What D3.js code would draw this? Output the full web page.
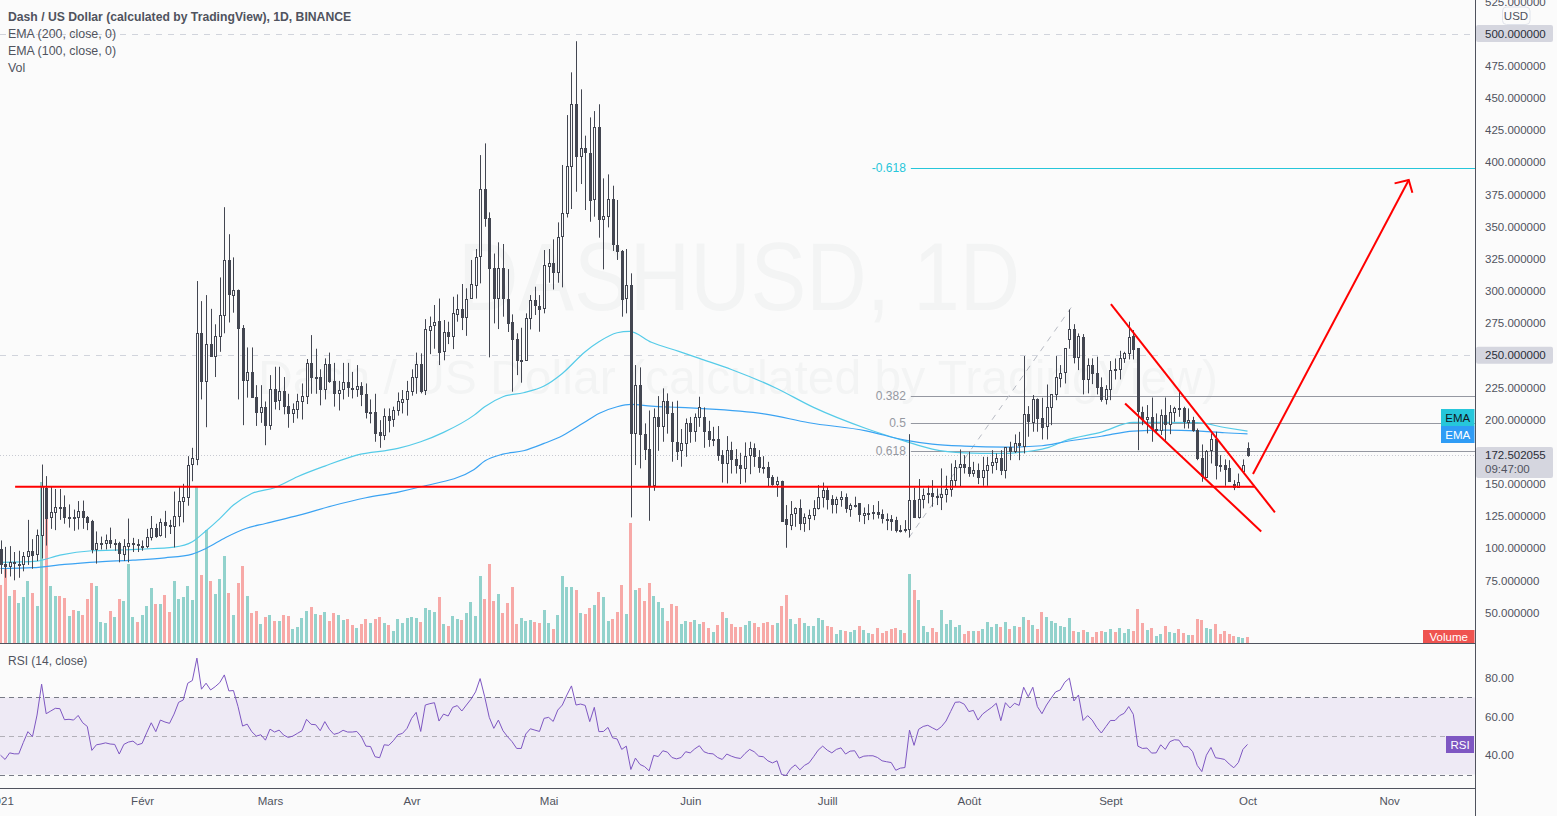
<!DOCTYPE html>
<html><head><meta charset="utf-8">
<style>html,body{margin:0;padding:0;background:#fbfbfb;overflow:hidden}svg{display:block}text{font-family:"Liberation Sans",Arial,sans-serif}</style>
<script src="https://cdnjs.cloudflare.com/ajax/libs/d3/7.8.5/d3.min.js"></script>
</head><body><svg id="c" width="1557" height="816"></svg>
<script>
const opens=[99,87.5,86,89,88,88,94,98,95,110,
147,124,128,132,132,124,124,124,129,124,
121,99,104,104,106,104,104,96,102,104,
103,102,102,109,116,110,120,118,117,125,
137,140,165,170,267.6,230,259,249.5,265,281,
323.6,297,301,271.5,231,237,217.6,206,210,196,
224,215,222,210.6,205,208,214,218,243.6,233,
233,223.6,243,230,220.7,223,228.8,224.6,224,226,
219.7,206,206,190,188,203,200,207,214,216,
222,233,243,222.3,270,273,276.5,252.7,267.7,264.3,
282.4,286,280,294,305,326.5,378.8,356.3,317.4,294,
317.4,294,275.5,262.3,246.5,246,278.6,292.6,288.4,286.4,
320,322,314.9,342,360.2,397,445,404.2,410.7,407.4,
371,427,355.5,358,371,336,331.2,294.1,304.5,189.2,
226.7,188.4,177,149,201.6,194.4,214,204.7,182.7,175.7,
181.4,197,190.5,201.6,202,191,184.5,184.5,172.3,165.8,
176.2,169,165,162.5,171.8,177.5,171,163,163,155,
149.8,152.5,122.6,118.7,126.9,130.9,119.2,123.9,126,131.6,
139.9,145.1,137.9,134.2,137.9,139.4,130.9,133.7,134.8,126.2,
127.7,127.7,128,126.2,123,123,121.8,114,114,115,
137.3,124.4,138.6,141.7,142.5,139.9,140,142,146,153,
163.2,165.3,163.2,158.8,161,155.5,161,164.5,166.6,169.7,
160.7,178.3,175,181.4,179.5,204,198.2,215.8,201.3,194.3,
209.4,219.5,232.7,236.3,262,270,248.2,264,231.1,242.3,
235.8,225,215.8,223.4,238.4,239,247.5,251.3,265,255.2,
206,200.3,201.6,193,191.9,203.4,196.4,205.5,208.6,208.6,
198.2,199.4,191.8,169.7,155.5,175.7,184.5,164.5,165,162,
150,148,160,177.9];
const highs=[106,101,101.6,97,98,97,122,107,114.5,165,
156,148,146,146,141,134,130,136.6,137,125,
122,113,109,110.6,116,107,105,107,123,108,
107,106,115,125,119,123,129,122,144,148,
150,171.5,178,307.6,292,296.7,286,274,310.4,365,
344,326,301,273.4,256,256,226.7,226.7,214,234.5,
241,241,233,220,212.5,220,228,247,265.6,255,
239,247.5,252,244,230,244,244,237,242.3,229,
228,215.6,220,199.5,208.6,208.6,210,221,222.9,230,
239,252,251.4,278,280,289,294,277.3,276,295.4,
297.2,305.3,302,324,332.5,405.5,414.6,361,329,337.7,
336.4,316.9,281.7,267,271.3,282.5,296.7,303.2,296.7,331.7,
332.5,340,353.2,397.8,436.6,469.8,494,456.6,420.6,434.8,
439.7,445,387.4,390.5,381.7,370.6,331.7,332.5,313.6,242.3,
240.5,197,207,208.6,218.2,224.2,220.3,213.8,214.6,192.6,
200.8,202,204.7,217.7,209.4,199,194.3,194.9,176.2,187.1,
182.7,177,174.1,182.2,182.7,181.4,176.2,171.5,167.1,156.8,
155.5,152.5,133.5,136.6,131.7,137.9,127,130,137.3,149,
151,147.7,141.2,140,144.3,142.5,134.8,140,134.8,131.6,
134.2,133.5,136.6,130.1,127,125.7,124.4,117.9,121.8,188.6,
147,153.7,146.4,148.5,152.9,146.4,162,156.3,165.8,168.4,
176.7,172.3,175,167.1,165.8,171,171,176.2,173.6,176.2,
178.3,182.7,188.4,190.4,249.3,210.4,219,216.4,216.9,227.2,
219.5,249.3,242.3,255.2,285.5,274.1,266.9,266.4,247.5,247.5,
248.8,232.7,226.7,245.4,247.4,253.4,252.6,276,269.5,255.2,
210,211.2,217.1,204.7,207.8,217.1,211.2,209.9,222.8,209.9,
208.6,202.1,193,180.6,176.2,189.2,190.5,172.3,169,168.4,
152.9,158,169,182.2];
const lows=[80,77,78,75,77,82,87,84,90,92,
102,115,114,122,119,116,113.5,114.5,115,114,
96,88,99,99,100,98,89,90,89,97,
97,98,100,106,108,109,108,111,100.6,117,
120,133,152,164.5,215.6,194,250,233,252.6,267,
275.4,283,215.6,195.6,217,217.6,195,197.4,180,192,
207.8,207.3,204,193.6,197.4,200.8,200,212,220,220,
211,215.6,228.5,210,207,215.6,217.6,216.4,217.6,210.4,
200.8,197,182.7,178,184,190,194.3,203,204.7,203,
218.5,220,220.3,219,250.8,255,242.3,246,258.6,254.7,
276,269.5,265,294,294,305.8,349.8,248.3,274.7,270.3,
279.9,268,221.6,234.5,228.6,246.2,270,281.2,268.2,282.5,
306.3,301,306.3,302.7,357,363.6,377,383,362.8,353.7,
357.6,341.3,316.7,349.3,331,324,279.9,282.5,123.9,164.6,
162,168.5,121.3,144.6,175.7,182.7,189,167.2,168.5,163.3,
171,181.9,182.7,194.3,178,178.8,179.3,167.9,151,150.3,
158,158,149.8,151,157.5,163.2,158.6,158,148.2,148.5,
139.9,121.8,100.3,114,116.6,114,112.7,114,121.8,130,
131.6,130,127,127,132.2,127.5,124.4,131.6,120.5,118.7,
121.8,122.3,123,119.2,114,113.5,112.2,112.2,112.2,108.3,
123.4,123,130.9,134.8,132.2,133.5,129.6,135.5,140,147.7,
147.7,158,155.5,155.5,149.8,148.5,148.5,158,160.7,156.8,
154.2,168.4,174,168.4,173.6,186.6,190.5,190.5,184.5,184.5,
195.6,215,225,228,255,243.6,238.4,219.5,220.3,227.5,
219.5,213.8,211.7,215,231.1,231.1,244,246.7,246.7,176.2,
195.6,189.2,182.7,189.2,187.9,183.5,188.6,198.2,202.1,193,
193,190.5,168.4,151.6,155.5,165.8,153.4,159.4,148.5,151.6,
145.1,147.7,159.4,171];
const closes=[87,86,89,88,88,94,98,95,110,148,
124,128,132,132,124,124,124,129,124,120.5,
99,104,104,106,104,104,96,102,104,103,
102,102,109,116,110,120,118,117,125,137,
140,165,170,267.6,230,259,249.5,265,281,323.6,
297,301,271.5,231,237,217.6,206,210,196,224,
215,222,210.6,205,208,214,218,243.6,233,233,
223.6,243,230,220.7,223,228.8,224.6,224,226,219.7,
206,206,190,188,203,200,207,214,216,222,
232.7,243,222.3,270,273,275.5,252.7,267.7,264.3,282.4,
286,280,294,305,326.5,378.8,356.3,317.4,294,317.4,
294,275.5,262.3,246,245.7,278.6,292.6,288.4,286.4,320,
322,314.9,342,360.2,397,445.2,404.2,410.7,407.4,371,
427,355.5,358,371,336,331.2,294.1,304.5,189.2,226.7,
188.4,177,149,201.6,194.4,214,204.7,182.7,175.7,181.4,
197,190.5,201.6,209.4,191.2,184.5,184.5,172.3,165.8,176.2,
169,164.5,162.5,171.8,177.5,171,163,163,155,149.8,
152.5,121.8,118.7,126.9,130.9,119.2,123.9,126,131.6,139.9,
145.1,137.9,134.2,137.9,139.4,130.9,133.7,132.8,126.2,127.7,
127.7,128,126.2,123,123,121.8,114,113.5,115,137.3,
124.4,138.6,141.7,142.5,139.9,140.4,142,146,153,163.2,
165.3,163.2,158.8,161,155.5,161,164.5,166.6,169.7,160.7,
178.3,175,181.4,179.5,204,198.2,215.8,201.3,194.3,209.4,
219.5,232.7,236.3,255.2,270,248.2,264.8,231.1,242.3,235.8,
225,215.8,223.4,238.4,239,247.5,251.3,263.8,255.2,206,
200.3,201.6,193,191.9,203.4,196.4,205.5,208.6,208.6,198.2,
199.4,191.8,169.7,155.5,175.7,184.5,164.5,165,162,152.1,
147.6,151.6,165,172.5];
const volumes=[58,75,47,53,40,46,62,50,37,161,
147,57,47,47,45,27,33,32,28,44,
60,57,21,20,32,26,44,42,79,26,
21,28,37,55,39,39,48,31,62,44,
46,57,43,156,68,113,62,49,64,87,
50,28,60,77,47,30,32,19,26,28,
22,22,28,27,14,16,25,32,36,29,
28,31,22,30,28,23,24,18,15,19,
24,20,24,26,20,18,12,24,20,25,
26,25,21,35,33,31,46,19,17,27,
24,23,30,41,27,67,44,79,42,49,
30,40,56,19,25,22,23,21,20,33,
20,14,28,67,56,56,53,30,29,35,
38,51,46,22,24,31,58,29,120,53,
55,42,60,47,41,35,22,39,37,19,
22,21,23,19,21,15,11,18,31,25,
19,16,16,18,22,20,16,20,21,18,
20,37,48,24,19,25,20,17,17,25,
23,17,16,9,13,12,11,13,17,13,
10,9,15,10,12,14,15,13,10,69,
53,43,17,11,15,11,33,19,23,16,
18,9,12,12,12,14,21,16,19,16,
21,14,17,16,26,23,18,14,31,26,
22,20,17,16,25,12,11,13,11,6,
11,12,11,14,11,15,10,14,12,34,
20,13,15,7,9,17,11,10,14,10,
8,8,24,23,15,14,19,9,12,9,
7,6,5,6];
const volumeSides=[
"r","r","g","r","g","g","g","r","g","g",
"r","g","g","r","r","g","r","g","r","r",
"r","g","g","g","r","g","r","g","g","g",
"r","g","g","g","r","g","r","r","g","g",
"g","g","g","g","r","g","r","g","g","g",
"r","g","r","r","g","r","r","g","r","g",
"r","g","r","r","g","g","g","g","r","g",
"r","g","r","r","g","g","r","r","g","r",
"r","g","r","r","g","r","g","g","g","g",
"g","g","r","g","g","g","r","g","r","g",
"g","r","g","g","g","g","r","r","r","g",
"r","r","r","r","g","g","g","r","r","g",
"g","r","g","g","g","g","r","g","r","r",
"g","r","g","g","r","r","r","g","r","g",
"r","r","r","g","g","g","r","r","r","g",
"g","r","g","g","r","r","g","r","r","g",
"r","r","r","g","g","r","r","r","r","r",
"g","r","r","g","g","r","g","g","g","g",
"g","r","r","g","g","r","g","g","r","g",
"g","r","r","r","r","r","r","g","r","g",
"r","g","g","g","r","r","g","g","g","g",
"g","r","r","g","r","g","g","g","g","r",
"g","r","g","r","g","r","g","r","r","g",
"g","g","g","g","g","r","g","r","g","r",
"r","r","g","g","r","g","g","g","r","r",
"r","g","r","g","g","r","g","g","r","r",
"g","r","r","r","g","g","r","r","r","r",
"r","g","g","r"];
const rsiValues=[40,37.8,41.2,40.7,40.7,46.6,52.2,49.6,60.8,76.8,
61.5,62.9,64.3,64.1,58.4,58.6,58.2,60.6,56.8,54.9,
42.5,45.4,45.8,46.4,45.8,45.6,40.6,45.6,46.8,47.3,
45.4,46.1,51.6,56.8,52.2,58.2,57.2,56.5,61.3,67.4,
68.6,77.3,78.7,90.3,74.2,77.3,73.8,75.5,77.6,81.6,
73.3,73.5,65.2,55.1,56.1,52.2,49.9,50.6,47.8,53.5,
52,53,50.4,49.2,49.9,51.3,52.7,58.6,56,55.8,
52.7,57.4,53.4,50.8,51.5,52.9,52,52,52.3,49.6,
44.7,44.5,39.2,38.7,45.4,45.1,47.5,50.6,51.3,53.9,
59.1,62.2,52.3,66,66.7,67.2,57.7,61.3,60.3,64.8,
65.7,62.9,66,69,72.8,79.7,70.3,59.6,53.9,58.2,
52.7,49.6,47,43.5,43.5,51,53.7,53,52.3,59.1,
59.6,57.5,63.4,66,71.2,75.9,66,66.5,65.8,57.4,
64.8,52.2,52.3,54.4,49,48.4,43,44.7,32.6,38.5,
35.2,34.1,31.9,39.9,39.3,42.3,41.6,38.8,38.1,38.8,
41.8,41.2,43.3,44.9,41.8,40.9,40.7,38.8,37.8,40.6,
39.5,38.7,38.3,40.9,43,41.8,39.5,39.2,37.1,36,
37.1,30,29.5,33.1,35,32.4,34.7,36,39.2,42.6,
44.7,42.6,41.2,43,43.8,40.6,42.1,42.3,38.5,39.5,
39.7,39.7,38.8,37.1,36.6,36.2,32.2,33.3,33.6,53,
45.1,53.4,54.9,55.5,54.2,53,54.8,57.7,62.6,67.4,
67.6,66.4,62.6,63.2,58.2,61.3,63.1,64.8,66.9,57.9,
67.2,64.5,66.9,65.8,75.2,70.3,75.2,65.2,61.5,66,
69.5,72.8,73.8,77.8,79.9,68.1,71.2,58,60.5,58.2,
54.4,51.5,54.8,58,58,60.5,61.7,65.2,61.2,44.7,
43.5,43.7,41.1,41.2,45.4,43,47,48,47.8,44.4,
44.4,41.8,34.7,31.5,40,44,38.7,38.3,37.8,35.4,
33.5,36.2,43,45.6];
const ema100Days=[0,8,13,20,25,31,38,42,45,48,51,55,60,65,71,78,87,92,97,103.7,106,110,114.5,119,123,128,131,135,137.7,142.5,148.5,153,160,169.5,178,189.5,198,204,211,218.5,226,229.5,233,241,248,255,262,268,273];
const ema100Values=[89,90,94.6,98,98.5,99.3,100.8,105,113.5,123,133.5,142.5,147,155.5,163.8,172.3,177.5,182.7,190,203.4,209.9,217.7,220.8,226,235.8,252.7,260.4,267.4,268.5,260,253,247.5,238.9,224.9,209.4,193,183.2,177,174.1,173.6,175.7,178.3,183.5,190.2,197.7,197.7,197.5,193.8,191];
const ema200Days=[0,7,14,21.6,29,36,42,45,49.3,53.7,58,65.4,72.7,80,87.3,92,103.7,106,110,114.5,119,123,127.5,131,135,138,142.5,148.5,153,167.5,177,189.5,198,204,211,220,228,233,241,248,255,262,268,273];
const ema200Values=[84.2,84.8,87.4,89.4,90.7,92.5,95.4,99.8,108.3,115.3,119.2,125.7,133,139.2,143.8,147.7,161.2,167.7,173.1,175.7,181.4,187.4,197,204.7,209.9,211.7,210.4,209.4,208.6,204.2,197.5,191.2,184,180.9,179.3,178.5,179.6,182.7,187,191,191.8,191.2,189.7,188.9];
const monthDays=[0,31,59,90,120,151,181,212,243,273,304];
const monthLabels=["2021","Févr","Mars","Avr","Mai","Juin","Juill","Août","Sept","Oct","Nov"];
const priceTicks=d3.range(50,526,25);
const rsiTicks=[40,60,80];
const fibRatios=["0.382","0.5","0.618","-0.618"];
const fibPrices=[217.9,196.9,175.9,395.5];
const fibStartDay=199.3;
const fibDiagonal=[[198.9,108.3],[234.4,287]];
const redLines=[
 [[3.2,147.7],[274.6,147.7]],
 [[243.1,289.7],[279,127.8]],
 [[246.2,212.5],[276,113]],
 [[274.2,157.6],[308.3,386.1]],
 [[305.2,383.5],[308.3,386.1],[309.1,376.2]]
];
const priceTags=[500,250];
const lastPrice=172.502055;
const lastTime="09:47:00";

const W=1557,H=816,paneR=1475,priceBottom=643,rsiBottom=788;
const BG="#fbfbfb",INK="#50535e",CANDLE="#434651";
const svg=d3.select("#c");
svg.append("rect").attr("width",W).attr("height",H).attr("fill",BG);
const x=d3.scaleLinear().domain([0,273]).range([0.5,1247.5]);
const y=d3.scaleLinear().domain([50,500]).range([612.5,33.5]);
const rsiY=d3.scaleLinear().domain([30,70]).range([774.5,697.3]);
const volY=d3.scaleLinear().domain([0,100]).range([priceBottom,priceBottom-100]);
const days=d3.range(opens.length);

// watermark
const wm=svg.append("g").attr("fill","#50535e").attr("fill-opacity",0.045).attr("text-anchor","start");
wm.append("text").attr("x",458).attr("y",310).attr("font-size",96).attr("textLength",562).attr("lengthAdjust","spacingAndGlyphs").text("DASHUSD, 1D");
wm.append("text").attr("x",258).attr("y",394).attr("font-size",48).attr("textLength",960).attr("lengthAdjust","spacingAndGlyphs").text("Dash / US Dollar (calculated by TradingView)");

// horizontal price reference lines
svg.append("g").selectAll("line").data(priceTags).join("line")
 .attr("x1",0).attr("x2",paneR).attr("y1",d=>Math.round(y(d))+.5).attr("y2",d=>Math.round(y(d))+.5)
 .attr("stroke","#d1d4dc").attr("stroke-dasharray","6,6");
svg.append("line").attr("x1",0).attr("x2",paneR).attr("y1",Math.round(y(lastPrice))+.5).attr("y2",Math.round(y(lastPrice))+.5)
 .attr("stroke","#c8cad2").attr("stroke-dasharray","1,2");

// volume
svg.append("g").selectAll("rect").data(volumes).join("rect")
 .attr("x",(d,i)=>Math.round(x(i)-1.5)).attr("width",3)
 .attr("y",d=>volY(d)).attr("height",d=>volY(0)-volY(d))
 .attr("fill",(d,i)=>volumeSides[i]==="g"?"#92d2cc":"#f7a9a7");

// fib
const fib=svg.append("g");
fib.selectAll("line").data(fibPrices).join("line")
 .attr("x1",x(fibStartDay)).attr("x2",paneR).attr("y1",d=>Math.round(y(d))+.5).attr("y2",d=>Math.round(y(d))+.5)
 .attr("stroke",(d,i)=>i===3?"#26c6da":"#9598a1");
fib.selectAll("text").data(fibRatios).join("text")
 .attr("x",x(fibStartDay)-5).attr("y",(d,i)=>y(fibPrices[i])+4).attr("text-anchor","end").attr("font-size",12)
 .attr("fill",(d,i)=>i===3?"#26c6da":"#9598a1").text(d=>d);
const ln=d3.line().x(d=>x(d[0])).y(d=>y(d[1]));
svg.append("path").attr("d",ln(fibDiagonal)).attr("fill","none").attr("stroke","#b8bbc4").attr("stroke-dasharray","6,6");

// EMA
const curve=d3.line().x(d=>x(d[0])).y(d=>y(d[1])).curve(d3.curveMonotoneX);
svg.append("path").attr("d",curve(ema100Days.map((d,i)=>[d,ema100Values[i]]))).attr("fill","none").attr("stroke","#55cbe8").attr("stroke-width",1.2);
svg.append("path").attr("d",curve(ema200Days.map((d,i)=>[d,ema200Values[i]]))).attr("fill","none").attr("stroke","#3ba3f2").attr("stroke-width",1.2);

// candles
const cg=svg.append("g").selectAll("g").data(days).join("g");
cg.append("line").attr("x1",i=>Math.round(x(i))+.5).attr("x2",i=>Math.round(x(i))+.5)
 .attr("y1",i=>y(highs[i])).attr("y2",i=>y(lows[i])).attr("stroke",CANDLE);
cg.append("rect")
 .attr("x",i=>Math.round(x(i))-.5).attr("width",2)
 .attr("y",i=>Math.round(y(Math.max(opens[i],closes[i])))+.5)
 .attr("height",i=>Math.max(1,Math.round(Math.abs(y(opens[i])-y(closes[i])))))
 .attr("fill",i=>closes[i]>=opens[i]?BG:CANDLE).attr("stroke",CANDLE);

// drawn red lines
svg.append("g").selectAll("path").data(redLines).join("path")
 .attr("d",ln).attr("fill","none").attr("stroke","#ff0000").attr("stroke-width",2);

// RSI pane
svg.append("rect").attr("x",0).attr("width",paneR).attr("y",rsiY(70)).attr("height",rsiY(30)-rsiY(70)).attr("fill","#7e57c2").attr("fill-opacity",.1);
svg.append("g").selectAll("line").data([70,50,30]).join("line")
 .attr("x1",0).attr("x2",paneR).attr("y1",d=>Math.round(rsiY(d))+.5).attr("y2",d=>Math.round(rsiY(d))+.5)
 .attr("stroke",d=>d===50?"#b2b0b8":"#787b86").attr("stroke-dasharray","5,4");
svg.append("path").attr("d",d3.line().x((d,i)=>x(i)).y(d=>rsiY(d))(rsiValues)).attr("fill","none").attr("stroke","#7e57c2").attr("stroke-width",1);

// pane frame
const frame=svg.append("g").attr("stroke",INK);
frame.append("line").attr("x1",0).attr("x2",paneR).attr("y1",priceBottom+.5).attr("y2",priceBottom+.5);
frame.append("line").attr("x1",0).attr("x2",paneR).attr("y1",rsiBottom+.5).attr("y2",rsiBottom+.5);
frame.append("line").attr("x1",paneR+.5).attr("x2",paneR+.5).attr("y1",0).attr("y2",H);

// axes
const fmt=d3.format(".6f");
const pa=svg.append("g").attr("transform",`translate(${paneR},0)`)
 .call(d3.axisRight(y).tickValues(priceTicks).tickSize(0).tickPadding(10).tickFormat(fmt));
const ra=svg.append("g").attr("transform",`translate(${paneR},0)`)
 .call(d3.axisRight(rsiY).tickValues(rsiTicks).tickSize(0).tickPadding(10).tickFormat(d3.format(".2f")));
const ta=svg.append("g").attr("transform",`translate(0,${rsiBottom})`)
 .call(d3.axisBottom(x).tickValues(monthDays).tickSize(0).tickPadding(9).tickFormat((d,i)=>monthLabels[i]));
[pa,ra,ta].forEach(a=>{a.select(".domain").remove();a.selectAll("text").attr("font-size",11.5).attr("font-family",'"Liberation Sans",Arial,sans-serif').attr("fill",INK);});

// price tags
const tag=svg.append("g");
tag.selectAll("rect").data(priceTags).join("rect").attr("x",paneR+1).attr("width",77).attr("y",d=>y(d)-8.5).attr("height",17).attr("rx",2).attr("fill","#d5d6df");
tag.selectAll("text").data(priceTags).join("text").attr("x",paneR+10).attr("y",d=>y(d)+4).attr("font-size",11.5).attr("fill","#2a2e39").text(fmt);
svg.append("rect").attr("x",paneR+1).attr("width",77).attr("y",447).attr("height",31).attr("rx",2).attr("fill","#d5d6df");
svg.append("text").attr("x",paneR+10).attr("y",459).attr("font-size",11.5).attr("fill","#2a2e39").text(fmt(lastPrice));
svg.append("text").attr("x",paneR+10).attr("y",473).attr("font-size",11.5).attr("fill",INK).text(lastTime);

// USD unit box
svg.append("rect").attr("x",1502.5).attr("y",7).attr("width",27.5).attr("height",17.5).attr("rx",4).attr("fill",BG).attr("stroke","#e0e3eb");
svg.append("text").attr("x",1516).attr("y",19.5).attr("text-anchor","middle").attr("font-size",11.5).attr("fill",INK).text("USD");

// series tags
function seriesTag(x0,y0,w,h,fill,txt,col){
 svg.append("rect").attr("x",x0).attr("y",y0).attr("width",w).attr("height",h).attr("fill",fill);
 svg.append("text").attr("x",x0+w/2).attr("y",y0+h/2+4).attr("text-anchor","middle").attr("font-size",11.5).attr("fill",col).text(txt);
}
seriesTag(1441,409,33.5,17,"#26c6da","EMA","#131722");
seriesTag(1441,426,33.5,17,"#2f9cf5","EMA","#ffffff");
seriesTag(1423,630,51.5,13,"#ef5350","Volume","#ffffff");
seriesTag(1446,736,28,17,"#7e57c2","RSI","#ffffff");

// legend
const legend=[["Dash / US Dollar (calculated by TradingView), 1D, BINANCE",20.5,true],["EMA (200, close, 0)",38,false],["EMA (100, close, 0)",55,false],["Vol",72,false]];
svg.append("g").selectAll("text").data(legend).join("text").attr("x",8).attr("y",d=>d[1]).attr("font-size",d=>d[2]?12.2:12.4)
 .attr("font-weight",d=>d[2]?700:400).attr("fill",INK).text(d=>d[0]);
svg.append("text").attr("x",8).attr("y",665).attr("font-size",12).attr("fill",INK).text("RSI (14, close)");
</script></body></html>
